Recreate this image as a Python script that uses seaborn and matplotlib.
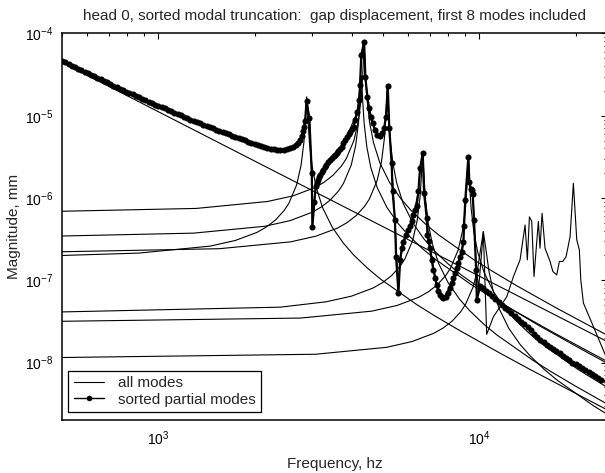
import numpy as np
import matplotlib
matplotlib.use('Agg')
import matplotlib.pyplot as plt
import seaborn as sns
from matplotlib.ticker import LogLocator, NullFormatter

# ---- data (frequency in hz, magnitude in mm) ----
sorted_freq = [500, 513, 525, 537, 550, 562, 575, 589, 603, 617, 631, 646, 661, 676, 692, 708,
               724, 741, 759, 776, 794, 813, 832, 851, 871, 891, 912, 933, 955, 977,
               1000, 1023, 1047, 1072, 1096, 1122, 1148, 1175, 1202, 1230, 1259, 1288, 1318,
               1349, 1380, 1413, 1445, 1479, 1514, 1549, 1585, 1622, 1660, 1698, 1738, 1778,
               1820, 1862, 1905, 1950, 1995, 2042, 2089, 2138, 2188, 2239, 2291, 2344, 2399,
               2455, 2512, 2570, 2634, 2690, 2729, 2765,
               2797, 2825, 2845, 2866, 2895, 2954, 3006, 3019, 3062, 3092, 3120, 3150, 3175,
               3200, 3233, 3266, 3300, 3340, 3383, 3427, 3473, 3520, 3558, 3596, 3639, 3682,
               3725, 3770, 3817, 3865, 3912, 3960, 4008, 4055, 4110, 4171, 4229,
               4249, 4289, 4375, 4415, 4477, 4533, 4588, 4655, 4732, 4811, 4906, 4966, 5047,
               5121, 5183, 5242, 5330, 5368, 5458, 5502, 5596, 5665, 5733, 5799, 5911, 6009,
               6085, 6158, 6232, 6320, 6383, 6457, 6536, 6662, 6727, 6858, 6889, 6950, 7020,
               7106, 7189, 7280, 7365, 7450, 7546, 7640, 7730, 7850, 8006, 8100, 8200, 8300,
               8401, 8500, 8607, 8710, 8815, 8920, 8960, 9040, 9240, 9306, 9400, 9466, 9535,
               9626, 9770, 9820, 10050, 10290, 10500, 10720, 10960, 11220, 11480, 11750, 12020,
               12300, 12590, 12880, 13180, 13490, 13800, 14130, 14450, 14790, 15140, 15490,
               15850, 16220, 16600, 16980, 17380, 17780, 18200, 18620, 19050, 19500, 19950,
               20420, 20890, 21380, 21880, 22390, 22910, 23440, 23990, 25000]
sorted_mag = [4.65e-5, 4.45e-5, 4.26e-5, 4.08e-5, 3.90e-5, 3.73e-5, 3.58e-5, 3.42e-5, 3.28e-5,
              3.14e-5, 3.01e-5, 2.88e-5, 2.76e-5, 2.65e-5, 2.54e-5, 2.43e-5,
              2.33e-5, 2.23e-5, 2.14e-5, 2.05e-5, 1.97e-5, 1.89e-5, 1.82e-5, 1.74e-5, 1.67e-5,
              1.61e-5, 1.54e-5, 1.48e-5, 1.43e-5, 1.37e-5,
              1.33e-5, 1.27e-5, 1.23e-5, 1.18e-5, 1.14e-5, 1.09e-5, 1.05e-5, 1.01e-5, 9.7e-6,
              9.35e-6, 9.0e-6, 8.7e-6, 8.4e-6,
              8.1e-6, 7.8e-6, 7.55e-6, 7.3e-6, 7.05e-6, 6.8e-6, 6.55e-6, 6.35e-6, 6.15e-6,
              5.95e-6, 5.75e-6, 5.55e-6, 5.37e-6,
              5.2e-6, 5.02e-6, 4.85e-6, 4.7e-6, 4.55e-6, 4.41e-6, 4.28e-6, 4.15e-6, 4.05e-6,
              3.96e-6, 3.9e-6, 3.86e-6, 3.85e-6,
              3.87e-6, 3.92e-6, 4.05e-6, 4.22e-6, 4.45e-6, 4.7e-6, 5.1e-6,
              5.6e-6, 6.5e-6, 7.4e-6, 8.6e-6, 1.51e-5, 9.3e-6, 2.0e-6, 4.5e-7, 9.0e-7, 1.38e-6,
              1.52e-6, 1.66e-6, 1.78e-6,
              1.9e-6, 2.05e-6, 2.2e-6, 2.37e-6, 2.55e-6, 2.72e-6, 2.9e-6, 3.05e-6, 3.2e-6,
              3.35e-6, 3.5e-6, 3.7e-6, 3.9e-6,
              4.2e-6, 4.6e-6, 5.05e-6, 5.57e-6, 6.0e-6, 6.4e-6, 6.9e-6, 7.38e-6, 9.0e-6, 1.12e-5,
              1.56e-5,
              2.37e-5, 5.48e-5, 7.95e-5, 2.94e-5, 1.71e-5, 1.23e-5, 9.75e-6, 8.11e-6, 6.71e-6,
              5.85e-6, 5.69e-6, 6.12e-6, 7.05e-6,
              9.75e-6, 2.32e-5, 7.05e-6, 2.65e-6, 1.2e-6, 5.42e-7, 1.94e-7, 7.0e-8, 1.77e-7,
              2.45e-7, 2.95e-7, 3.56e-7, 4.1e-7,
              4.6e-7, 5.2e-7, 6.24e-7, 7.2e-7, 8.0e-7, 1.2e-6, 2.3e-6, 3.5e-6, 1.14e-6, 5.69e-7,
              3.56e-7, 3.0e-7, 2.45e-7,
              1.77e-7, 1.34e-7, 1.08e-7, 8.8e-8, 7.5e-8, 6.65e-8, 6.2e-8, 6.06e-8, 6.3e-8, 7.0e-8,
              8.0e-8, 9.2e-8, 1.06e-7,
              1.22e-7, 1.4e-7, 1.61e-7, 1.9e-7, 2.23e-7, 2.95e-7, 4.58e-7, 9.5e-7, 3.13e-6,
              1.58e-6, 1.3e-6, 1.25e-6, 1.12e-6,
              5.4e-7, 1.34e-7, 5.8e-8, 8.4e-8, 8.0e-8, 7.5e-8, 7.0e-8, 6.45e-8, 5.9e-8, 5.45e-8,
              5.0e-8, 4.65e-8,
              4.3e-8, 4.0e-8, 3.7e-8, 3.4e-8, 3.15e-8, 2.92e-8, 2.7e-8, 2.47e-8, 2.25e-8, 2.07e-8,
              1.9e-8,
              1.77e-8, 1.65e-8, 1.55e-8, 1.45e-8, 1.37e-8, 1.3e-8, 1.21e-8, 1.13e-8, 1.07e-8,
              1.0e-8, 9.5e-9,
              9.0e-9, 8.5e-9, 8.0e-9, 7.6e-9, 7.2e-9, 6.85e-9, 6.5e-9, 6.15e-9, 5.8e-9]

all_freq = [500, 661, 871, 1148, 1514, 1995, 2399, 2634, 2797, 2866, 2895, 2954, 3006, 3019,
            3062, 3092, 3266, 3596, 3865, 4171, 4249, 4289, 4375, 4415, 4533, 4732, 4906, 5047,
            5121, 5183, 5242, 5330, 5458, 5596, 5665, 5911, 6232, 6457, 6536, 6662, 6727, 6858,
            7020, 7365, 7730, 8200, 8607, 8920, 9040, 9240, 9306, 9535, 9626, 9770, 9950,
            10290, 10540, 11060, 12170, 12770, 13390, 13880, 14110, 14320, 14560, 14800,
            15270, 15450, 15680, 16020, 16610, 16940, 17420, 17750, 18190, 18630, 19170,
            19630, 20110, 20490, 20700, 21090, 22650, 25000]
all_mag = [4.65e-5, 2.76e-5, 1.67e-5, 1.05e-5, 6.8e-6, 4.55e-6, 3.85e-6, 4.22e-6, 5.6e-6,
           8.6e-6, 1.65e-5, 9.3e-6, 2.0e-6, 4.5e-7,
           9.0e-7, 1.38e-6, 2.2e-6, 3.5e-6, 5.57e-6, 1.12e-5, 2.37e-5, 5.48e-5, 7.6e-5, 2.94e-5,
           1.23e-5, 6.71e-6, 5.69e-6, 7.05e-6,
           9.75e-6, 2.32e-5, 7.05e-6, 2.65e-6, 5.42e-7, 7.0e-8, 1.77e-7, 3.56e-7, 6.24e-7,
           1.2e-6, 2.3e-6, 3.5e-6, 1.14e-6, 5.69e-7,
           2.45e-7, 8.8e-8, 6.06e-8, 9.2e-8, 1.61e-7, 2.95e-7, 9.5e-7, 3.13e-6, 1.58e-6,
           1.12e-6, 5.4e-7, 1.5e-7, 8.0e-8,
           3.9e-7, 2.2e-8, 3.6e-8, 6.3e-8, 1.11e-7, 1.77e-7, 4.7e-7, 1.77e-7, 5.9e-7, 5.2e-7,
           1.11e-7,
           5.2e-7, 2.45e-7, 6.5e-7, 2.45e-7, 1.69e-7, 1.28e-7, 1.16e-7, 1.69e-7, 1.69e-7,
           1.94e-7, 3.4e-7,
           1.51e-6, 3.1e-7, 2.34e-7, 1.01e-7, 5.3e-8, 2.74e-8, 1.1e-8]

rigid_freq = [500, 1000, 2000, 5000, 10000, 25000]
rigid_mag = [4.47e-5, 1.12e-5, 2.8e-6, 4.5e-7, 1.12e-7, 1.8e-8]

mode1_freq = [500, 870, 1450, 1739, 2029, 2174, 2319, 2464, 2551, 2696, 2783, 2841, 2870, 2899,
              2928, 2957, 3015, 3102, 3247, 3479, 3769, 4059, 4493, 4928, 6378, 7248, 8697,
              11596, 14495, 25000]
mode1_mag = [2.0e-7, 2.14e-7, 2.6e-7, 3.05e-7, 3.82e-7, 4.46e-7, 5.42e-7, 7.03e-7, 8.64e-7,
             1.44e-6, 2.49e-6, 4.74e-6, 8.6e-6, 1.7e-5, 8.5e-6, 4.64e-6, 2.39e-6, 1.35e-6,
             7.66e-7, 4.43e-7, 2.83e-7, 2.03e-7, 1.39e-7, 1.03e-7, 5.07e-8, 3.71e-8, 2.44e-8,
             1.3e-8, 8.1e-9, 2.66e-9]

mode2_freq = [500, 1287, 2145, 2574, 3003, 3218, 3432, 3647, 3775, 3990, 4118, 4204, 4247,
              4290, 4333, 4376, 4462, 4590, 4805, 5148, 5577, 6006, 6650, 7293, 9438, 10725,
              12870, 17160, 25000]
mode2_mag = [3.45e-7, 3.74e-7, 4.53e-7, 5.31e-7, 6.67e-7, 7.77e-7, 9.45e-7, 1.225e-6, 1.51e-6,
             2.52e-6, 4.34e-6, 8.26e-6, 1.5e-5, 3.06e-5, 1.48e-5, 8.09e-6, 4.17e-6, 2.35e-6,
             1.34e-6, 7.73e-7, 4.93e-7, 3.54e-7, 2.42e-7, 1.8e-7, 8.84e-8, 6.48e-8, 4.25e-8,
             2.27e-8, 1.03e-8]

mode3_freq = [500, 1313, 2188, 2625, 3063, 3281, 3500, 3719, 3850, 4069, 4200, 4288, 4331,
              4375, 4419, 4463, 4550, 4681, 4900, 5250, 5688, 6125, 6781, 7438, 9625, 10938,
              13125, 17500, 25000]
mode3_mag = [6.9e-7, 7.47e-7, 9.07e-7, 1.06e-6, 1.33e-6, 1.55e-6, 1.89e-6, 2.45e-6, 3.01e-6,
             5.03e-6, 8.68e-6, 1.67e-5, 3.11e-5, 7.48e-5, 3.08e-5, 1.64e-5, 8.33e-6, 4.69e-6,
             2.67e-6, 1.55e-6, 9.85e-7, 7.08e-7, 4.85e-7, 3.6e-7, 1.77e-7, 1.3e-7, 8.5e-8,
             4.53e-8, 2.15e-8]

mode4_freq = [500, 1550, 2583, 3100, 3616, 3875, 4133, 4391, 4546, 4804, 4959, 5063, 5114,
              5166, 5218, 5269, 5373, 5528, 5786, 6199, 6716, 7232, 8007, 8782, 11365, 12915,
              15498, 20664, 25000]
mode4_mag = [2.22e-7, 2.42e-7, 2.93e-7, 3.44e-7, 4.31e-7, 5.03e-7, 6.11e-7, 7.93e-7, 9.75e-7,
             1.63e-6, 2.81e-6, 5.39e-6, 9.9e-6, 2.2e-5, 9.78e-6, 5.28e-6, 2.7e-6, 1.52e-6,
             8.65e-7, 5.0e-7, 3.19e-7, 2.29e-7, 1.57e-7, 1.16e-7, 5.72e-8, 4.19e-8, 2.75e-8,
             1.47e-8, 9.8e-9]

mode5_freq = [500, 2398, 3331, 3997, 4663, 4997, 5330, 5663, 5863, 6196, 6396, 6529, 6595,
              6662, 6729, 6795, 6928, 7128, 7461, 7994, 8661, 9327, 10326, 11325, 14656, 16655,
              19986, 25000]
mode5_mag = [4.12e-8, 4.71e-8, 5.47e-8, 6.41e-8, 8.04e-8, 9.37e-8, 1.14e-7, 1.48e-7, 1.82e-7,
             3.03e-7, 5.23e-7, 9.94e-7, 1.78e-6, 3.49e-6, 1.76e-6, 9.73e-7, 4.97e-7, 2.83e-7,
             1.61e-7, 9.32e-8, 5.94e-8, 4.27e-8, 2.92e-8, 2.17e-8, 1.07e-8, 7.81e-9, 5.13e-9,
             3.13e-9]

mode6_freq = [500, 2772, 4620, 5544, 6468, 6930, 7392, 7854, 8131, 8593, 8870, 9055, 9148,
              9240, 9332, 9425, 9610, 9887, 10349, 11088, 12012, 12936, 14322, 15708, 20328,
              25000]
mode6_mag = [3.17e-8, 3.47e-8, 4.21e-8, 4.94e-8, 6.2e-8, 7.22e-8, 8.78e-8, 1.14e-7, 1.4e-7,
             2.34e-7, 4.03e-7, 7.74e-7, 1.42e-6, 3.16e-6, 1.4e-6, 7.58e-7, 3.87e-7, 2.18e-7,
             1.24e-7, 7.18e-8, 4.58e-8, 3.29e-8, 2.25e-8, 1.67e-8, 8.2e-9, 5.0e-9]

mode7_freq = [500, 3087, 5145, 6174, 7203, 7718, 8232, 8747, 9055, 9570, 9878, 10084, 10290,
              10496, 10702, 11010, 11525, 12348, 13377, 14406, 15950, 17493, 22638, 25000]
mode7_mag = [1.15e-8, 1.26e-8, 1.53e-8, 1.8e-8, 2.26e-8, 2.63e-8, 3.19e-8, 4.14e-8, 5.1e-8,
             8.34e-8, 1.38e-7, 2.35e-7, 3.9e-7, 2.29e-7, 1.32e-7, 7.75e-8, 4.52e-8, 2.61e-8,
             1.67e-8, 1.2e-8, 8.2e-9, 6.08e-9, 2.99e-9, 2.35e-9]

title = 'head 0, sorted modal truncation:  gap displacement, first 8 modes included'

# ---- style ----
sns.set_style('white')
plt.rcParams['font.family'] = ['Liberation Sans', 'DejaVu Sans']
plt.rcParams['mathtext.default'] = 'regular'
plt.rcParams['axes.unicode_minus'] = False

fig = plt.figure(figsize=(6.05, 4.73), dpi=100)
ax = fig.add_axes([61.7 / 605, 53 / 473, 545.4 / 605, 386.5 / 473])
ax.set_xscale('log')
ax.set_yscale('log')

# individual mode contributions (thin lines)
modes = [(rigid_freq, rigid_mag), (mode1_freq, mode1_mag), (mode2_freq, mode2_mag),
         (mode3_freq, mode3_mag), (mode4_freq, mode4_mag), (mode5_freq, mode5_mag),
         (mode6_freq, mode6_mag), (mode7_freq, mode7_mag)]
for fq, mg in modes:
    sns.lineplot(x=fq, y=mg, ax=ax, color='black', linewidth=0.8,
                 estimator=None, sort=False)

sns.lineplot(x=all_freq, y=all_mag, ax=ax, color='black', linewidth=0.8,
             estimator=None, sort=False, label='all modes')
sns.lineplot(x=sorted_freq, y=sorted_mag, ax=ax, color='black', linewidth=1.6,
             marker='o', markersize=4.4, markeredgewidth=0, estimator=None, sort=False,
             label='sorted partial modes')

ax.set_xlim(500, 25000)
ax.set_ylim(2e-9, 1e-4)

ax.xaxis.set_major_locator(LogLocator(base=10, numticks=10))
ax.xaxis.set_minor_locator(LogLocator(base=10, subs=np.arange(2, 10), numticks=20))
ax.yaxis.set_major_locator(LogLocator(base=10, numticks=10))
ax.yaxis.set_minor_locator(LogLocator(base=10, subs=np.arange(2, 10), numticks=20))
ax.xaxis.set_minor_formatter(NullFormatter())
ax.yaxis.set_minor_formatter(NullFormatter())

ax.tick_params(which='both', direction='in', top=True, right=True, colors='black',
               width=0.8, labelsize=10)
ax.tick_params(which='major', length=4)
ax.tick_params(axis='x', which='major', pad=7)
ax.tick_params(axis='y', which='major', pad=6)
ax.tick_params(which='minor', length=2)
for sp in ax.spines.values():
    sp.set_color('black')
    sp.set_linewidth(1.1)

ax.set_title(title, fontsize=11, pad=10)
ax.set_xlabel('Frequency, hz', fontsize=11, labelpad=6)
ax.set_ylabel('Magnitude, mm', fontsize=11, labelpad=3)

leg = ax.legend(loc='lower left', bbox_to_anchor=(6.5 / 545.4, 8 / 386.5), borderaxespad=0,
                fontsize=11, frameon=True, fancybox=False, framealpha=1, edgecolor='black',
                handlelength=2.0, handletextpad=0.9, borderpad=0.35, labelspacing=0.15)
leg.get_frame().set_linewidth(0.9)
# keep the legend marker at the reference's dot size
leg.legend_handles[1].set_markersize(4.0)
leg.legend_handles[1].set_linewidth(1.0)

fig.savefig('out.png', dpi=100)
